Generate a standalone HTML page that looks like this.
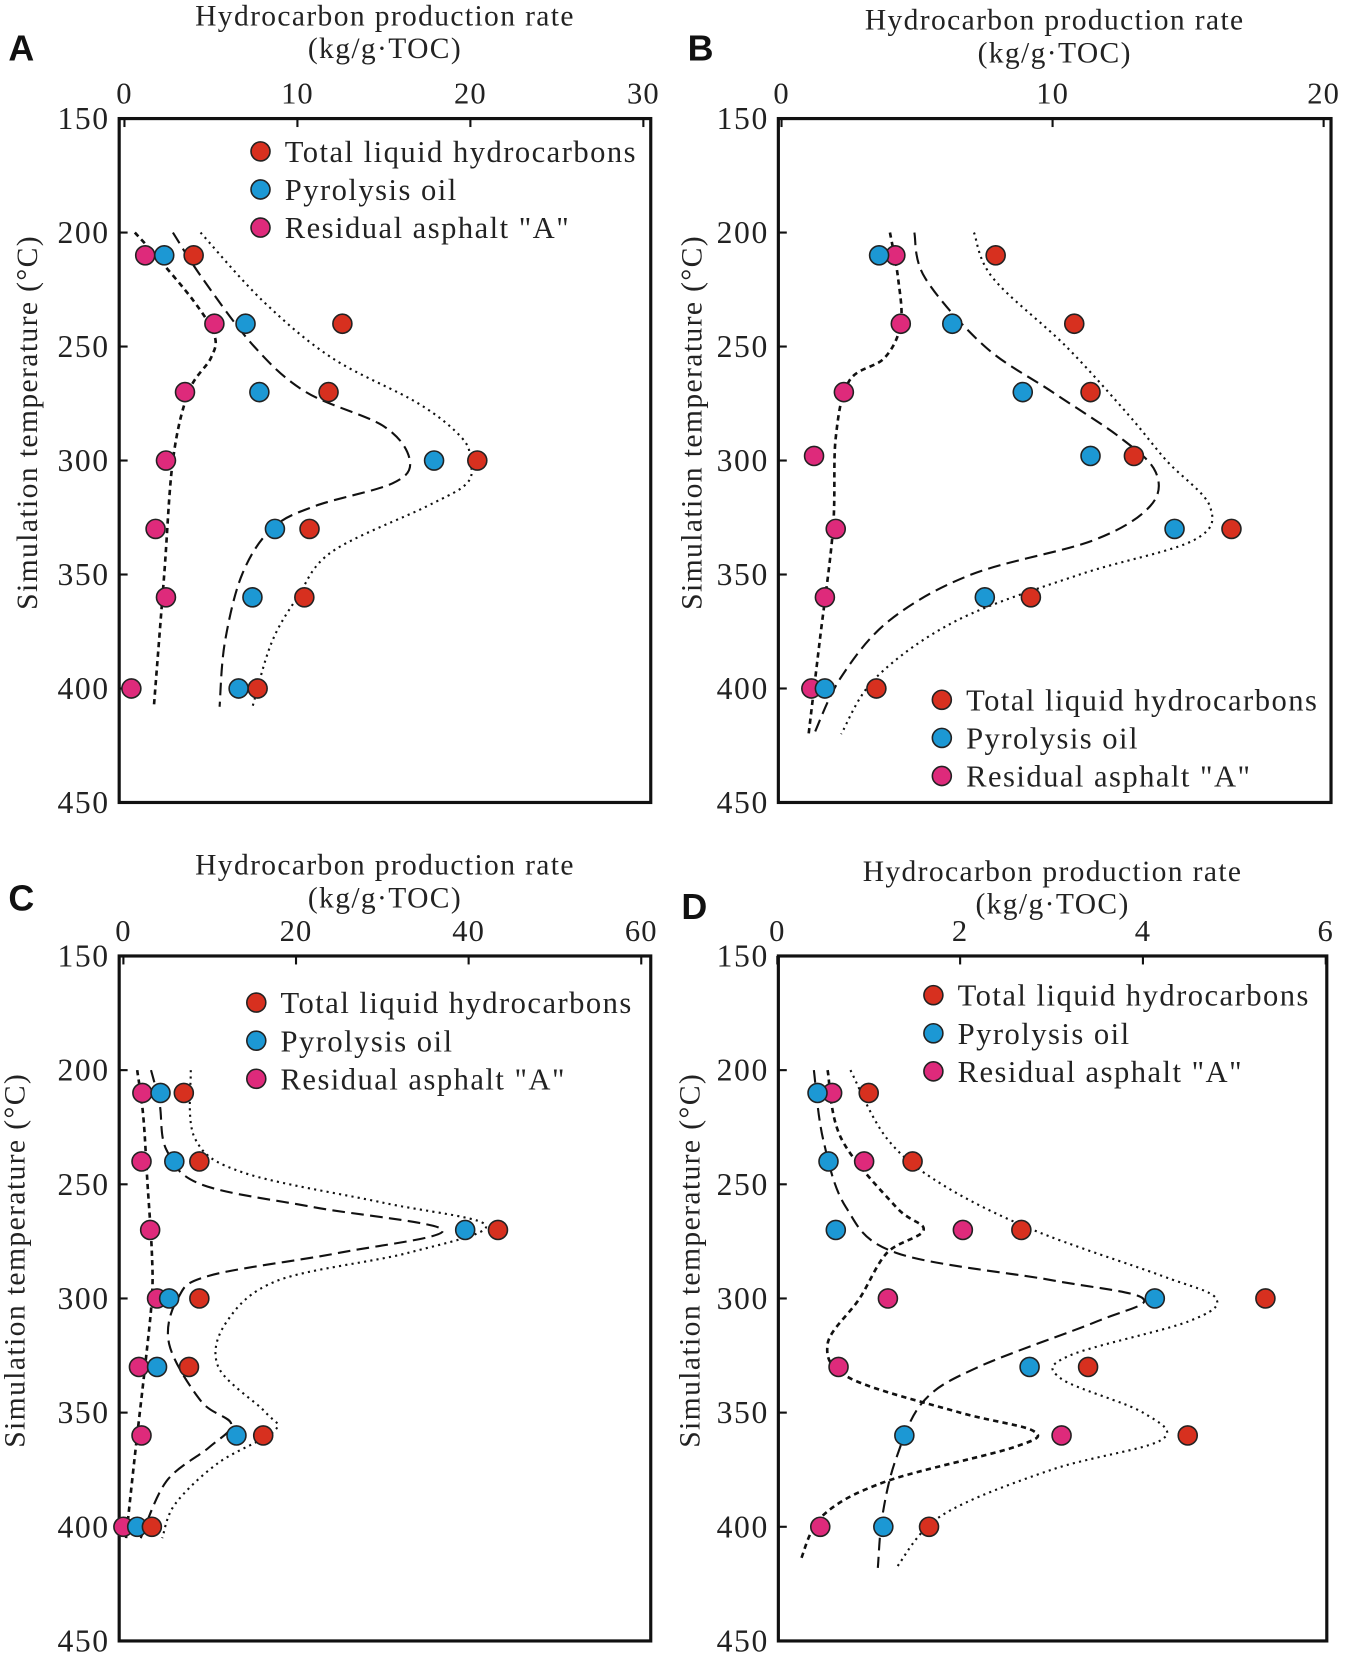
<!DOCTYPE html>
<html><head><meta charset="utf-8"><style>
html,body{margin:0;padding:0;background:#fff;}
svg{display:block;}
text{font-family:"Liberation Serif",serif;fill:#222;}
</style></head><body>
<svg id="fig" width="1350" height="1660" viewBox="0 0 1280 1568" preserveAspectRatio="none" xmlns="http://www.w3.org/2000/svg"></svg>
<script>
// ---- Data ----
const temps = [210, 240, 270, 300, 330, 360, 400];
const aTotal = [4.0, 12.6, 11.8, 20.4, 10.7, 10.4, 7.7];
const aOil = [2.3, 7.0, 7.8, 17.9, 8.7, 7.4, 6.6];
const aAsph = [1.2, 5.2, 3.5, 2.4, 1.8, 2.4, 0.4];
const bTemps = [210, 240, 270, 298, 330, 360, 400];
const bTotal = [7.9, 10.8, 11.4, 13.0, 16.6, 9.2, 3.5];
const bOil = [3.6, 6.3, 8.9, 11.4, 14.5, 7.5, 1.6];
const bAsph = [4.2, 4.4, 2.3, 1.2, 2.0, 1.6, 1.1];
const cTotal = [7.0, 8.8, 43.4, 8.8, 7.6, 16.2, 3.3];
const cOil = [4.3, 5.9, 39.6, 5.3, 3.9, 13.1, 1.6];
const cAsph = [2.2, 2.1, 3.1, 3.9, 1.8, 2.1, 0.0];
const dTotal = [1.0, 1.48, 2.67, 5.34, 3.40, 4.49, 1.66];
const dOil = [0.44, 0.56, 0.64, 4.13, 2.76, 1.39, 1.16];
const dAsph = [0.6, 0.95, 2.03, 1.21, 0.67, 3.11, 0.47];
// trend curves: [temperature, value]
const aCurveAsph = [[200,0.6],[210,1.8],[230,4.0],[245,5.2],[255,5.0],[270,3.7],[300,2.8],[350,2.3],[408,1.7]];
const aCurveOil = [[200,2.8],[220,4.5],[250,7.5],[270,10.5],[285,15],[300,16.5],[310,15.5],[320,11],[330,8.5],[350,6.8],[380,5.8],[408,5.5]];
const aCurveTotal = [[200,4.4],[230,8],[255,12],[275,17],[290,19.5],[300,20],[310,19.8],[320,17.5],[340,12],[360,10],[380,8.5],[408,7.4]];
const bCurveAsph = [[200,4.0],[220,4.3],[240,4.4],[255,3.8],[265,2.5],[290,2.0],[330,1.9],[380,1.4],[420,1.0]];
const bCurveOil = [[200,4.9],[220,5.3],[250,7.5],[270,10],[290,12.5],[305,13.8],[320,13.6],[335,11.5],[350,7],[370,4],[395,2.2],[420,1.2]];
const bCurveTotal = [[200,7.1],[220,7.8],[250,10.5],[280,12.8],[300,14.2],[320,15.8],[335,15.2],[350,11],[370,6.5],[395,3.5],[420,2.2]];
const cCurveAsph = [[200,1.6],[220,2.3],[250,2.8],[280,3.3],[300,3.3],[330,2.5],[370,1.3],[405,0.3]];
const cCurveOil = [[200,3.2],[215,4.2],[235,5.0],[250,9],[260,22],[270,37],[280,25],[290,10],[300,6.3],[320,5.3],[345,9],[355,12.5],[365,10],[380,5],[405,2]];
const cCurveTotal = [[200,7.8],[230,8.3],[245,14],[258,30],[268,42],[280,33],[292,18],[310,12],[330,11],[350,16.5],[358,17.5],[372,11],[390,6],[405,4.5]];
const dCurveAsph = [[200,0.55],[230,0.7],[260,1.3],[270,1.6],[280,1.2],[300,0.9],[320,0.55],[335,0.8],[350,2.0],[358,2.8],[365,2.6],[380,1.2],[395,0.5],[415,0.25]];
const dCurveOil = [[200,0.4],[230,0.5],[260,0.75],[280,1.3],[292,3.0],[300,4.0],[310,3.5],[330,2.2],[345,1.6],[370,1.3],[395,1.15],[418,1.1]];
const dCurveTotal = [[200,0.8],[230,1.2],[250,1.8],[270,2.8],[290,4.2],[300,4.8],[310,4.5],[325,3.2],[335,3.1],[350,4.0],[362,4.2],[375,3.0],[395,1.8],[418,1.3]];
const yTicks = [150, 200, 250, 300, 350, 400, 450];
const aXTicks = [0, 10, 20, 30];
const bXTicks = [0, 10, 20];
const cXTicks = [0, 20, 40, 60];
const dXTicks = [0, 2, 4, 6];
const legendLabels = ["Total liquid hydrocarbons", "Pyrolysis oil", "Residual asphalt \"A\""];

const NS = "http://www.w3.org/2000/svg";
const svg = document.getElementById('fig');
const COLORS = ["#d7301f", "#1c98d4", "#de2a7b"];
function mk(tag, attrs, parent) {
  const e = document.createElementNS(NS, tag);
  for (const k in attrs) e.setAttribute(k, attrs[k]);
  (parent || svg).appendChild(e);
  return e;
}
function smooth(pts) {
  let d = "M" + pts[0][0] + "," + pts[0][1];
  for (let i = 0; i < pts.length - 1; i++) {
    const p0 = pts[i - 1] || pts[i], p1 = pts[i], p2 = pts[i + 1], p3 = pts[i + 2] || p2;
    const c1x = p1[0] + (p2[0] - p0[0]) / 6, c1y = p1[1] + (p2[1] - p0[1]) / 6;
    const c2x = p2[0] - (p3[0] - p1[0]) / 6, c2y = p2[1] - (p3[1] - p1[1]) / 6;
    d += " C" + c1x.toFixed(1) + "," + c1y.toFixed(1) + " " + c2x.toFixed(1) + "," + c2y.toFixed(1) + " " + p2[0].toFixed(1) + "," + p2[1].toFixed(1);
  }
  return d;
}
function panel(cfg) {
  const g = mk('g', {});
  
  
  const xs = v => cfg.x0 + (v - cfg.xmin) / (cfg.xmax - cfg.xmin) * (cfg.x1 - cfg.x0);
  const ys = t => cfg.top + (t - 150) / 300 * (cfg.bot - cfg.top);
  const letter = mk('text', {x: cfg.lx, y: cfg.ly, 'font-size': 34, 'font-weight': 'bold', style: 'font-family:"Liberation Sans",sans-serif;fill:#111'}, g);
  letter.textContent = cfg.letter;
  
  
  const cx = (cfg.bl + cfg.br) / 2;
  const t1 = mk('text', {x: cx, y: cfg.ty, 'font-size': 28, 'letter-spacing': 1.3, 'text-anchor': 'middle'}, g);
  t1.textContent = "Hydrocarbon production rate";
  
  
  const t2 = mk('text', {x: cx, y: cfg.ty + 31, 'font-size': 28, 'letter-spacing': 1.3, 'text-anchor': 'middle'}, g);
  t2.textContent = "(kg/g\u00b7TOC)";
  
  
  const yt = mk('text', {x: 0, y: 0, 'font-size': 28, 'letter-spacing': 1.3, 'text-anchor': 'middle', transform: 'translate(' + cfg.yax + ',' + ((cfg.top + cfg.bot) / 2 - 36) + ') rotate(-90)'}, g);
  yt.textContent = "Simulation temperature (\u00b0C)";
  
  
  const box = mk('rect', {x: cfg.bl, y: cfg.top, width: cfg.br - cfg.bl, height: cfg.bot - cfg.top, fill: 'none', stroke: '#111', 'stroke-width': 3}, g);
  
  
  cfg.xticks.forEach(v => {
    const x = xs(v);
    mk('line', {x1: x, x2: x, y1: cfg.top, y2: cfg.top + 8, stroke: '#111', 'stroke-width': 2}, g);
    const tl = mk('text', {x: x, y: cfg.top - 14, 'font-size': 29, 'letter-spacing': 1, 'text-anchor': 'middle'}, g);
    tl.textContent = v;
    
    
  });
  yTicks.forEach(t => {
    const y = ys(t);
    mk('line', {x1: cfg.bl, x2: cfg.bl + 8, y1: y, y2: y, stroke: '#111', 'stroke-width': 2}, g);
    const tl = mk('text', {x: cfg.bl - 9, y: y + 10, 'font-size': 30, 'letter-spacing': 1.5, 'text-anchor': 'end'}, g);
    tl.textContent = t;
    
    
  });
  const styles = [
    {c: cfg.cTotal, dash: '2,4', w: 2, name: 'trend-total'},
    {c: cfg.cOil, dash: '12,6', w: 2, name: 'trend-oil'},
    {c: cfg.cAsph, dash: '5,4', w: 2.5, name: 'trend-asphalt'}
  ];
  styles.forEach(s => {
    const pts = s.c.map(p => [xs(p[1]), ys(p[0])]);
    const p = mk('path', {d: smooth(pts), fill: 'none', stroke: '#111', 'stroke-width': s.w, 'stroke-dasharray': s.dash}, g);
    
    
  });
  const series = [cfg.total, cfg.oil, cfg.asph];
  const names = ['point-total', 'point-oil', 'point-asphalt'];
  [2, 1, 0].forEach(si => {
    series[si].forEach((v, i) => {
      const c = mk('circle', {cx: xs(v), cy: ys(cfg.temps[i]), r: 9, fill: COLORS[si], stroke: '#222', 'stroke-width': 1.5}, g);
      
      
    });
  });
  legendLabels.forEach((lab, i) => {
    const y = cfg.legY + i * 36;
    const c = mk('circle', {cx: cfg.legX, cy: y, r: 9, fill: COLORS[i], stroke: '#222', 'stroke-width': 1.5}, g);
    
    
    const t = mk('text', {x: cfg.legX + 23, y: y + 10, 'font-size': 29, 'letter-spacing': 1.4}, g);
    t.textContent = lab;
    
    
  });
}
panel({letter: 'A', lx: 8, ly: 57, bl: 113, br: 617, top: 112, bot: 758, x0: 118, x1: 610, xmin: 0, xmax: 30, ty: 24, yax: 35,
  xticks: aXTicks, temps: temps, total: aTotal, oil: aOil, asph: aAsph, cTotal: aCurveTotal, cOil: aCurveOil, cAsph: aCurveAsph, legX: 247, legY: 143});
panel({letter: 'B', lx: 652, ly: 57, bl: 738, br: 1262, top: 112, bot: 758, x0: 741, x1: 1255, xmin: 0, xmax: 20, ty: 28, yax: 665,
  xticks: bXTicks, temps: bTemps, total: bTotal, oil: bOil, asph: bAsph, cTotal: bCurveTotal, cOil: bCurveOil, cAsph: bCurveAsph, legX: 893, legY: 661});
panel({letter: 'C', lx: 8, ly: 860, bl: 113, br: 617, top: 903, bot: 1550, x0: 117, x1: 608, xmin: 0, xmax: 60, ty: 826, yax: 23,
  xticks: cXTicks, temps: temps, total: cTotal, oil: cOil, asph: cAsph, cTotal: cCurveTotal, cOil: cCurveOil, cAsph: cCurveAsph, legX: 243, legY: 947});
panel({letter: 'D', lx: 646, ly: 868, bl: 738, br: 1258, top: 903, bot: 1550, x0: 737, x1: 1257, xmin: 0, xmax: 6, ty: 832, yax: 663,
  xticks: dXTicks, temps: temps, total: dTotal, oil: dOil, asph: dAsph, cTotal: dCurveTotal, cOil: dCurveOil, cAsph: dCurveAsph, legX: 885, legY: 940});
</script>
</body></html>
